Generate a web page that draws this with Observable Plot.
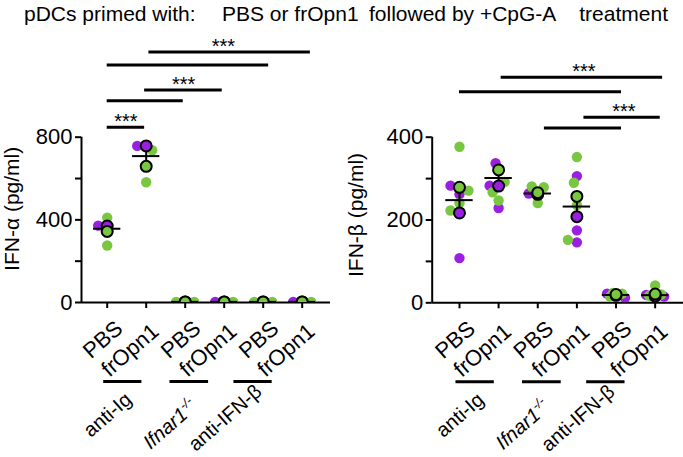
<!DOCTYPE html>
<html>
<head>
<meta charset="utf-8">
<script src="https://cdn.jsdelivr.net/npm/d3@7"></script>
<script src="https://cdn.jsdelivr.net/npm/@observablehq/plot@0.6"></script>
<style>
  body { margin: 0; background: #fff; }
  #root { position: relative; width: 683px; height: 457px; overflow: hidden; background: #fff;
          font-family: "Liberation Sans", Arial, sans-serif; color: #000; }
  .t { position: absolute; top: 3px; font-size: 21px; line-height: 1; white-space: pre; z-index: 2; }
  #left { position: absolute; left: 0; top: 0; z-index: 1; }
  #right { position: absolute; left: 340px; top: 0; z-index: 1; }
</style>
</head>
<body>
<div id="root">
  <div id="left"></div>
  <div id="right"></div>
  <div class="t" style="left:24px">pDCs primed with:</div>
  <div class="t" style="left:222px">PBS or frOpn1</div>
  <div class="t" style="left:369px">followed by +CpG-A</div>
  <div class="t" style="right:15px">treatment</div>
</div>
<script>
// ---------- shared categories ----------
const categories = ["PBS", "frOpn1", "PBS", "frOpn1", "PBS", "frOpn1"];
const groupNames = ["anti-Ig", "Ifnar1", "anti-IFN-β"];
// underline spans below the tick labels (in category units)
const groupSpans = [[-0.09, 0.89], [1.61, 2.60], [3.25, 4.23]];

// ---------- IFN-α panel ----------
const alphaPurple = [[372], [758], [], [3], [], [3]];
const alphaGreen = [[411, 276], [737, 582], [3, 3], [3], [3, 3], [3]];
const alphaPurpleMean = [370, 758, 3, 3, 3, 3];
const alphaGreenMean = [344, 659, 3, 3, 3, 3];
const alphaTicks = [0, 200, 400, 600, 800];
const alphaTickLabels = [0, 400, 800];
const alphaBracketFrom = [1.07, 0, 0.96, 0, 0];
const alphaBracketTo = [5.21, 4.14, 2.95, 1.95, 0.96];
const alphaBracketLevel = [1212, 1150, 1028, 976, 848];
const alphaStarX = [2.98, 1.96, 0.48];
const alphaStarLevel = [1212, 1028, 848];

// ---------- IFN-β panel ----------
const betaPurple = [[283, 262, 108], [337, 283, 229], [264], [306, 175, 146], [22, 12], [19, 15]];
const betaGreen = [[377, 271, 241, 223], [292, 267, 247], [279, 281, 241], [352, 290, 236, 152], [22, 24, 15], [42, 20, 17]];
const betaPurpleMean = [217, 282, 262, 208, 18, 16];
const betaGreenMean = [279, 321, 266, 257, 20, 21];
const betaTicks = [0, 100, 200, 300, 400];
const betaTickLabels = [0, 200, 400];
const betaBracketFrom = [1.065, 0, 3.18, 2.17];
const betaBracketTo = [5.19, 4.14, 5.13, 4.14];
const betaBracketLevel = [545, 510, 448, 422];
const betaStarX = [3.18, 4.2];
const betaStarLevel = [545, 448];

const PURPLE = "#9b1fe0";
const GREEN = "#79c640";
const FONT = '"Liberation Sans", Arial, sans-serif';
const H = 457;
const ROT = -41;

function buildPoints(pv, gv, pm, gm) {
  const pts = [];
  categories.forEach((_, i) => {
    pts.push({cat: i, value: pm[i], color: PURPLE, outlined: true});
    pts.push({cat: i, value: gm[i], color: GREEN, outlined: true});
    pv[i].forEach(v => pts.push({cat: i, value: v, color: PURPLE, outlined: false}));
    gv[i].forEach(v => pts.push({cat: i, value: v, color: GREEN, outlined: false}));
  });
  return pts;
}

// simple beeswarm-style horizontal dodge (layout only), limited spread
function dodge(pts, pxY, pxX, minDist = 7, step = 3, maxK = 3) {
  const placed = [];
  const order = [0];
  for (let k = 1; k <= maxK; k++) order.push(-k, k);
  for (const p of pts) {
    const py = p.value * pxY;
    let off = 0;
    if (!p.outlined) {
      const same = placed.filter(q => q.cat === p.cat);
      let best = null, bestD = -1;
      for (const k of order) {
        const o = k * step;
        const d = same.length ? d3.min(same, q => Math.hypot(q.off - o, q.py - py)) : Infinity;
        if (d >= minDist) { best = o; break; }
        if (d > bestD) { bestD = d; best = o; }
      }
      off = best;
    }
    placed.push({cat: p.cat, py, off});
    p.x = p.cat + off / pxX;
  }
  return pts;
}

function makePanel(c) {
  const pxY = (H - c.marginTop - c.marginBottom) / c.yMax;
  const pxX = (c.width - c.marginLeft - c.marginRight) / (c.xDomain[1] - c.xDomain[0]);
  const pts = dodge(buildPoints(c.pv, c.gv, c.pm, c.gm), pxY, pxX);
  const stats = categories.map((_, i) => {
    const a = c.pm[i], b = c.gm[i];
    const m = (a + b) / 2, s = Math.abs(a - b) / 2;
    return {cat: i, mean: m, lo: m - s, hi: m + s};
  });
  const brackets = c.bFrom.map((f, i) => ({from: f, to: c.bTo[i], level: c.bLevel[i]}));
  const stars = c.sX.map((x, i) => ({x, level: c.sLevel[i]}));
  const idx = d3.range(categories.length);
  const gIdx = d3.range(groupNames.length);
  const labelDy = [99, 106, 91];
  const labelDx = [10, 9, 10];

  const svg = Plot.plot({
    width: c.width, height: H,
    marginLeft: c.marginLeft, marginRight: c.marginRight,
    marginTop: c.marginTop, marginBottom: c.marginBottom,
    x: {domain: c.xDomain},
    y: {domain: [0, c.yMax]},
    color: {type: "identity"},
    style: {fontFamily: FONT, fontSize: "21px", color: "black", background: "transparent", overflow: "visible"},
    marks: [
      Plot.ruleY([0], {stroke: "black", strokeWidth: 2}),
      Plot.ruleX([c.xDomain[0]], {y1: 0, y2: c.yMax, stroke: "black", strokeWidth: 2}),
      Plot.axisY({ticks: c.ticks, tickSize: 6, tickPadding: 3, strokeWidth: 2, fontSize: 22,
                  tickFormat: d => c.tickLabels.includes(d) ? String(d) : "", label: null}),
      Plot.axisX({ticks: idx, tickSize: 6, strokeWidth: 2, tickFormat: () => "", label: null}),
      // individual points
      Plot.dot(pts.filter(p => !p.outlined), {x: "x", y: "value", fill: "color", r: 5.2, clip: true}),
      // mean and SEM
      Plot.ruleY(stats, {x1: d => d.cat - 0.35, x2: d => d.cat + 0.35, y: "mean", stroke: "black", strokeWidth: 2}),
      Plot.ruleX(stats, {x: "cat", y1: "lo", y2: "hi", stroke: "black", strokeWidth: 2}),
      Plot.ruleY(stats, {x1: d => d.cat - 0.1, x2: d => d.cat + 0.1, y: "lo", stroke: "black", strokeWidth: 2}),
      Plot.ruleY(stats, {x1: d => d.cat - 0.1, x2: d => d.cat + 0.1, y: "hi", stroke: "black", strokeWidth: 2}),
      // experiment means
      Plot.dot(pts.filter(p => p.outlined), {x: "x", y: "value", fill: "color", r: 5.5, stroke: "black", strokeWidth: 2, clip: true}),
      // significance brackets
      Plot.ruleY(brackets, {x1: "from", x2: "to", y: "level", stroke: "black", strokeWidth: 3}),
      Plot.text(stars, {x: "x", y: "level", text: () => "***", fontSize: 20, textAnchor: "middle", lineAnchor: "bottom", dy: 1}),
      // category tick labels
      Plot.text(idx.filter(i => i % 2 === 0), {x: d => d, y: () => 0, text: d => categories[d], rotate: ROT,
                textAnchor: "end", lineAnchor: "bottom", fontSize: 22, dx: 17, dy: 28}),
      Plot.text(idx.filter(i => i % 2 === 1), {x: d => d, y: () => 0, text: d => categories[d], rotate: ROT,
                textAnchor: "end", lineAnchor: "bottom", fontSize: 22, dx: 14, dy: 31}),
      // group underlines
      Plot.ruleY(gIdx, {x1: i => groupSpans[i][0], x2: i => groupSpans[i][1], y: () => 0, dy: 79, stroke: "black", strokeWidth: 3}),
      // group labels
      ...gIdx.map(i => Plot.text([i], {x: d => (groupSpans[d][0] + groupSpans[d][1]) / 2, y: () => 0,
                text: d => groupNames[d], rotate: ROT, textAnchor: "end", lineAnchor: "bottom", fontSize: 20,
                fontStyle: i === 1 ? "italic" : "normal", dx: labelDx[i], dy: labelDy[i]})),
      // y-axis title
      Plot.text([c.yLabel], {frameAnchor: "left", rotate: -90, textAnchor: "middle", lineAnchor: "middle",
                fontSize: 21, dx: c.yLabelDx, dy: c.yLabelDy})
    ]
  });
  // superscript for Ifnar1-/-
  svg.querySelectorAll("text").forEach(t => {
    if (t.textContent === "Ifnar1") {
      const ts = document.createElementNS("http://www.w3.org/2000/svg", "tspan");
      ts.setAttribute("dy", "-8");
      ts.setAttribute("font-size", "13");
      ts.setAttribute("font-style", "italic");
      ts.textContent = "-/-";
      t.appendChild(ts);
    }
  });
  return svg;
}

document.getElementById("left").appendChild(makePanel({
  width: 340, marginLeft: 81, marginRight: 10, marginTop: 136.7, marginBottom: 155,
  xDomain: [-0.659, 5.726], yMax: 800, ticks: alphaTicks, tickLabels: alphaTickLabels,
  pv: alphaPurple, gv: alphaGreen, pm: alphaPurpleMean, gm: alphaGreenMean,
  bFrom: alphaBracketFrom, bTo: alphaBracketTo, bLevel: alphaBracketLevel,
  sX: alphaStarX, sLevel: alphaStarLevel,
  yLabel: "IFN-α (pg/ml)", yLabelDx: -69, yLabelDy: -11
}));
document.getElementById("right").appendChild(makePanel({
  width: 343, marginLeft: 91.7, marginRight: 0, marginTop: 136.7, marginBottom: 154.7,
  xDomain: [-0.697, 5.724], yMax: 400, ticks: betaTicks, tickLabels: betaTickLabels,
  pv: betaPurple, gv: betaGreen, pm: betaPurpleMean, gm: betaGreenMean,
  bFrom: betaBracketFrom, bTo: betaBracketTo, bLevel: betaBracketLevel,
  sX: betaStarX, sLevel: betaStarLevel,
  yLabel: "IFN-β (pg/ml)", yLabelDx: -75.7, yLabelDy: -5
}));
</script>
</body>
</html>
